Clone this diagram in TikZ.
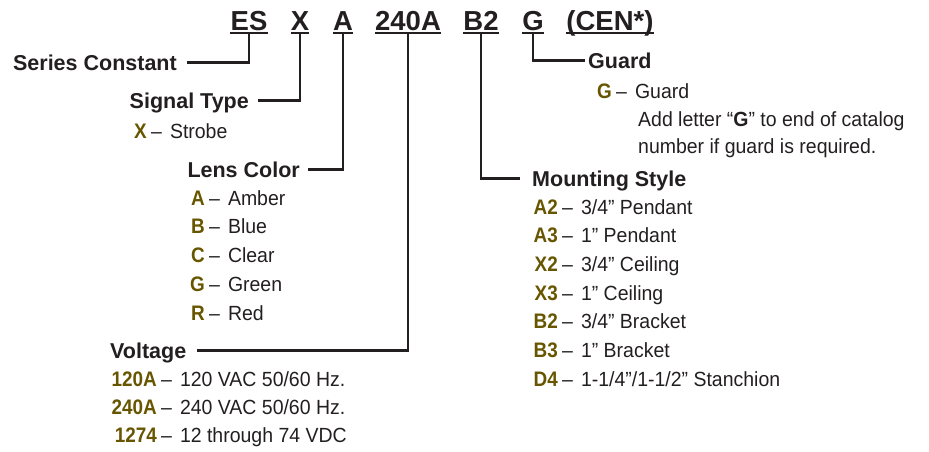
\documentclass[tikz,border=0pt]{standalone}
\usepackage{fontspec}
\setmainfont{Liberation Sans}
\newfontfamily\condfont{Liberation Sans}[FakeStretch=0.9]
\newfontfamily\descfont{Liberation Sans}[FakeStretch=0.95]
\usetikzlibrary{positioning}
\definecolor{codeolive}{HTML}{675500}
\definecolor{inkgray}{HTML}{231F20}

\begin{document}
\begin{tikzpicture}[
      x=1pt, y=-1pt,
      every node/.style={inner sep=0pt, text=inkgray},
      partcode/.style={font=\fontsize{27.5}{27.5}\selectfont\bfseries, anchor=base, text depth=3pt},
      heading/.style={font=\fontsize{21.5}{21.5}\selectfont\bfseries, text height=15pt, text depth=0pt},
      code/.style={font=\condfont\fontsize{21}{21}\selectfont\bfseries, text=codeolive, anchor=base east},
      desc/.style={font=\descfont\fontsize{20.5}{20.5}\selectfont, anchor=base west},
      lead/.style={draw=inkgray, line width=2.4pt},
    ]
    \useasboundingbox (0,0) rectangle (929,451);

    % Catalog number
    \node[partcode] (es)    at (249,30) {ES};
    \node[partcode] (sigx)  at (300,30) {X};
    \node[partcode] (lensa) at (343,30) {A};
    \node[partcode] (volt)  at (408,30) {240A};
    \node[partcode] (mount) at (481,30) {B2};
    \node[partcode] (grd)   at (533,30) {G};
    \node[partcode] (cen)   at (610,30) {(CEN*)};
    \foreach \p in {es, sigx, lensa, volt, mount, grd, cen}
      \draw[lead] (\p.south west) -- (\p.south east);

    % Headings
    \node[heading, anchor=base east] (series)   at (177,70)  {Series Constant};
    \node[heading, anchor=base east] (signal)   at (249,108) {Signal Type};
    \node[heading, anchor=base east] (lens)     at (300,177) {Lens Color};
    \node[heading, anchor=base west] (voltage)  at (110,358) {Voltage};
    \node[heading, anchor=base west] (guard)    at (588,68)  {Guard};
    \node[heading, anchor=base west] (mounting) at (532,186) {Mounting Style};

    % Leaders
    \draw[lead] (es.south)    |- ([xshift=10pt]series.east);
    \draw[lead] (sigx.south)  |- ([xshift=9pt]signal.east);
    \draw[lead] (lensa.south) |- ([xshift=8pt]lens.east);
    \draw[lead] (volt.south)  |- ([xshift=11pt]voltage.east);
    \draw[lead] (grd.south)   |- ([xshift=-3pt]guard.west);
    \draw[lead] (mount.south) |- ([xshift=-12pt]mounting.west);

    % Signal type
    \node[code] (sig-c1) at (147,138) {X};
    \node[desc, right=4pt of sig-c1.base east, anchor=base west] (sig-d1) {–\hspace{8pt}Strobe};

    % Lens color
    \foreach \c/\t [count=\i] in {A/Amber, B/Blue, C/Clear, G/Green, R/Red} {
      \node[code] (lens-c\i) at (205,{176.2+28.8*\i}) {\c};
      \node[desc, right=4pt of lens-c\i.base east, anchor=base west] (lens-d\i) {–\hspace{8pt}\t};
    }

    % Voltage
    \foreach \c/\t [count=\i] in {120A/{120 VAC 50/60 Hz.}, 240A/{240 VAC 50/60 Hz.}, 1274/{12 through 74 VDC}} {
      \node[code] (volt-c\i) at (157,{358+28*\i}) {\c};
      \node[desc, right=4pt of volt-c\i.base east, anchor=base west] (volt-d\i) {–\hspace{8pt}\t};
    }

    % Guard
    \node[code] (grd-c1) at (612,98) {G};
    \node[desc, right=4pt of grd-c1.base east, anchor=base west] (grd-d1) {–\hspace{8pt}Guard};
    \node[desc] (grd-d2) at (638,126) {Add letter “\textbf{G}” to end of catalog};
    \node[desc] (grd-d3) at (638,153) {number if guard is required.};

    % Mounting style
    \foreach \c/\t [count=\i] in {A2/{3/4” Pendant}, A3/{1” Pendant}, X2/{3/4” Ceiling}, X3/{1” Ceiling},
        B2/{3/4” Bracket}, B3/{1” Bracket}, D4/{1-1/4”/1-1/2” Stanchion}} {
      \node[code] (mnt-c\i) at (558,{185.3+28.7*\i}) {\c};
      \node[desc, right=4pt of mnt-c\i.base east, anchor=base west] (mnt-d\i) {–\hspace{8pt}\t};
    }
  \end{tikzpicture}
\end{document}
